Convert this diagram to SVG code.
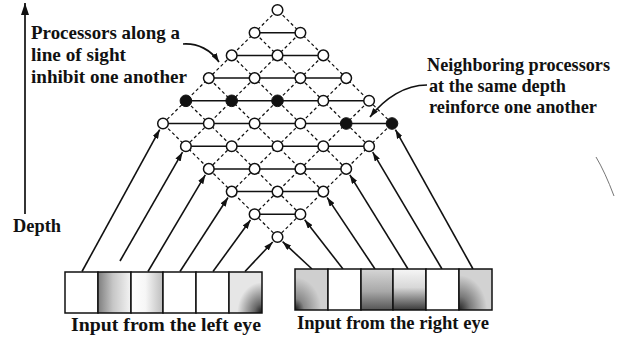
<svg xmlns="http://www.w3.org/2000/svg" width="619" height="337" viewBox="0 0 619 337">
<style>
.txt{font-family:"Liberation Serif","Times New Roman",serif;font-weight:bold;font-size:19.5px;fill:#111}
.nd{fill:#fff;stroke:#111;stroke-width:1.5}
.on{fill:#111;stroke:#111;stroke-width:1}
.h{stroke:#111;stroke-width:1.5;fill:none}
.d{stroke:#111;stroke-width:1.25;stroke-dasharray:3.2 2.6;fill:none}
.in{stroke:#111;stroke-width:1.6;fill:none;marker-end:url(#ah)}
.cv{stroke:#111;stroke-width:1.7;fill:none;marker-end:url(#ah)}
.bx{stroke:#111;stroke-width:1.5}
</style>
<defs>
<marker id="ah" markerUnits="userSpaceOnUse" markerWidth="9" markerHeight="6" refX="9" refY="3" orient="auto">
<path d="M0,0 L9,3 L0,6 z" fill="#111"/>
</marker>
<marker id="ahBig" markerUnits="userSpaceOnUse" markerWidth="12" markerHeight="8" refX="12" refY="4" orient="auto">
<path d="M0,0 L12,4 L0,8 z" fill="#111"/>
</marker>
<linearGradient id="gL2" x1="0" y1="0" x2="1" y2="0">
<stop offset="0" stop-color="#7e7e7e"/><stop offset="0.45" stop-color="#c6c6c6"/><stop offset="1" stop-color="#f4f4f4"/>
</linearGradient>
<linearGradient id="gL3" x1="0" y1="0" x2="1" y2="0">
<stop offset="0" stop-color="#ffffff"/><stop offset="0.45" stop-color="#f6f6f6"/><stop offset="1" stop-color="#bdbdbd"/>
</linearGradient>
<radialGradient id="gL6" cx="1" cy="1" r="0.75">
<stop offset="0" stop-color="#111"/><stop offset="0.3" stop-color="#666"/><stop offset="1" stop-color="#e6e6e6"/>
</radialGradient>
<radialGradient id="gR1" cx="0" cy="1" r="0.8">
<stop offset="0" stop-color="#111"/><stop offset="0.35" stop-color="#888"/><stop offset="1" stop-color="#cfcfcf"/>
</radialGradient>
<linearGradient id="gR3" x1="0" y1="0" x2="0" y2="1">
<stop offset="0" stop-color="#d6d6d6"/><stop offset="0.55" stop-color="#a8a8a8"/><stop offset="1" stop-color="#555"/>
</linearGradient>
<linearGradient id="gR4" x1="0" y1="0" x2="0" y2="1">
<stop offset="0" stop-color="#f6f6f6"/><stop offset="0.45" stop-color="#d8d8d8"/><stop offset="1" stop-color="#3a3a3a"/>
</linearGradient>
<radialGradient id="gR6" cx="0" cy="1" r="0.85">
<stop offset="0" stop-color="#222"/><stop offset="0.4" stop-color="#7a7a7a"/><stop offset="1" stop-color="#d2d2d2"/>
</radialGradient>
</defs>
<rect width="619" height="337" fill="#fff"/>

<g id="connectors">
<path class="h" d="M254.6,214.3H300.4 M231.7,191.6H323.3 M208.8,168.9H346.2 M185.9,146.2H369.1 M163,123.5H392 M185.9,100.8H369.1 M208.8,78.1H346.2 M231.7,55.4H323.3 M254.6,32.7H300.4"/>
<path class="d" d="M163,123.5L277.5,10 M185.9,146.2L300.4,32.7 M208.8,168.9L323.3,55.4 M231.7,191.6L346.2,78.1 M254.6,214.3L369.1,100.8 M277.5,237L392,123.5"/>
<path class="d" d="M277.5,237L163,123.5 M300.4,214.3L185.9,100.8 M323.3,191.6L208.8,78.1 M346.2,168.9L231.7,55.4 M369.1,146.2L254.6,32.7 M392,123.5L277.5,10"/>
<line class="in" x1="82" y1="271.5" x2="159.7" y2="129.6"/>
<line class="in" x1="120" y1="261" x2="182.5" y2="152.2"/>
<line class="in" x1="148" y1="271.5" x2="205.3" y2="174.9"/>
<line class="in" x1="180" y1="271.5" x2="228.0" y2="197.5"/>
<line class="in" x1="213" y1="271.5" x2="250.5" y2="220.0"/>
<line class="in" x1="245" y1="271.5" x2="272.7" y2="242.0"/>
<line class="in" x1="312" y1="269" x2="282.6" y2="241.7"/>
<line class="in" x1="343" y1="269" x2="304.7" y2="219.8"/>
<line class="in" x1="375" y1="269" x2="327.1" y2="197.4"/>
<line class="in" x1="408" y1="269" x2="349.8" y2="174.8"/>
<line class="in" x1="442" y1="269" x2="372.7" y2="152.2"/>
<line class="in" x1="473" y1="269" x2="395.4" y2="129.6"/>
<path class="cv" d="M183,44 C198,43 211,50 219,62"/>
<path class="cv" d="M427,85 C405,85 385,98 370,117"/>
<line x1="25" y1="214" x2="25" y2="3" stroke="#111" stroke-width="1.7" marker-end="url(#ahBig)"/>
</g>

<g id="nodes">
<g id="n5_0"><circle class="nd" cx="277.5" cy="237" r="5.3"/></g>
<g id="n4_0"><circle class="nd" cx="254.6" cy="214.3" r="5.3"/></g>
<g id="n5_1"><circle class="nd" cx="300.4" cy="214.3" r="5.3"/></g>
<g id="n3_0"><circle class="nd" cx="231.7" cy="191.6" r="5.3"/></g>
<g id="n4_1"><circle class="nd" cx="277.5" cy="191.6" r="5.3"/></g>
<g id="n5_2"><circle class="nd" cx="323.3" cy="191.6" r="5.3"/></g>
<g id="n2_0"><circle class="nd" cx="208.8" cy="168.9" r="5.3"/></g>
<g id="n3_1"><circle class="nd" cx="254.6" cy="168.9" r="5.3"/></g>
<g id="n4_2"><circle class="nd" cx="300.4" cy="168.9" r="5.3"/></g>
<g id="n5_3"><circle class="nd" cx="346.2" cy="168.9" r="5.3"/></g>
<g id="n1_0"><circle class="nd" cx="185.9" cy="146.2" r="5.3"/></g>
<g id="n2_1"><circle class="nd" cx="231.7" cy="146.2" r="5.3"/></g>
<g id="n3_2"><circle class="nd" cx="277.5" cy="146.2" r="5.3"/></g>
<g id="n4_3"><circle class="nd" cx="323.3" cy="146.2" r="5.3"/></g>
<g id="n5_4"><circle class="nd" cx="369.1" cy="146.2" r="5.3"/></g>
<g id="n0_0"><circle class="nd" cx="163" cy="123.5" r="5.3"/></g>
<g id="n1_1"><circle class="nd" cx="208.8" cy="123.5" r="5.3"/></g>
<g id="n2_2"><circle class="nd" cx="254.6" cy="123.5" r="5.3"/></g>
<g id="n3_3"><circle class="nd" cx="300.4" cy="123.5" r="5.3"/></g>
<g id="n4_4"><circle class="on" cx="346.2" cy="123.5" r="5.8"/></g>
<g id="n5_5"><circle class="on" cx="392" cy="123.5" r="5.8"/></g>
<g id="n0_1"><circle class="on" cx="185.9" cy="100.8" r="5.8"/></g>
<g id="n1_2"><circle class="on" cx="231.7" cy="100.8" r="5.8"/></g>
<g id="n2_3"><circle class="on" cx="277.5" cy="100.8" r="5.8"/></g>
<g id="n3_4"><circle class="nd" cx="323.3" cy="100.8" r="5.3"/></g>
<g id="n4_5"><circle class="nd" cx="369.1" cy="100.8" r="5.3"/></g>
<g id="n0_2"><circle class="nd" cx="208.8" cy="78.1" r="5.3"/></g>
<g id="n1_3"><circle class="nd" cx="254.6" cy="78.1" r="5.3"/></g>
<g id="n2_4"><circle class="nd" cx="300.4" cy="78.1" r="5.3"/></g>
<g id="n3_5"><circle class="nd" cx="346.2" cy="78.1" r="5.3"/></g>
<g id="n0_3"><circle class="nd" cx="231.7" cy="55.4" r="5.3"/></g>
<g id="n1_4"><circle class="nd" cx="277.5" cy="55.4" r="5.3"/></g>
<g id="n2_5"><circle class="nd" cx="323.3" cy="55.4" r="5.3"/></g>
<g id="n0_4"><circle class="nd" cx="254.6" cy="32.7" r="5.3"/></g>
<g id="n1_5"><circle class="nd" cx="300.4" cy="32.7" r="5.3"/></g>
<g id="n0_5"><circle class="nd" cx="277.5" cy="10" r="5.3"/></g>
</g>

<g id="left-eye">
<rect class="bx" x="65" y="272" width="33" height="41" fill="#fff"/>
<rect class="bx" x="98" y="272" width="33" height="41" fill="url(#gL2)"/>
<rect class="bx" x="131" y="272" width="32" height="41" fill="url(#gL3)"/>
<rect class="bx" x="163" y="272" width="33" height="41" fill="#fff"/>
<rect class="bx" x="196" y="272" width="33" height="41" fill="#fff"/>
<rect class="bx" x="229" y="272" width="33" height="41" fill="url(#gL6)"/>
</g>
<g id="right-eye">
<rect class="bx" x="295" y="269" width="33" height="41" fill="url(#gR1)"/>
<rect class="bx" x="328" y="269" width="33" height="41" fill="#fff"/>
<rect class="bx" x="361" y="269" width="32" height="41" fill="url(#gR3)"/>
<rect class="bx" x="393" y="269" width="33" height="41" fill="url(#gR4)"/>
<rect class="bx" x="426" y="269" width="33" height="41" fill="#fff"/>
<rect class="bx" x="459" y="269" width="33" height="41" fill="url(#gR6)"/>
</g>

<g id="labels">
<text class="txt" x="31" y="39" textLength="149" lengthAdjust="spacingAndGlyphs">Processors along a</text>
<text class="txt" x="31" y="61" textLength="95" lengthAdjust="spacingAndGlyphs">line of sight</text>
<text class="txt" x="31" y="83" textLength="156" lengthAdjust="spacingAndGlyphs">inhibit one another</text>
<text class="txt" x="427" y="71" style="font-size:18.2px" textLength="183" lengthAdjust="spacingAndGlyphs">Neighboring processors</text>
<text class="txt" x="429" y="92" textLength="137" lengthAdjust="spacingAndGlyphs">at the same depth</text>
<text class="txt" x="429" y="113" textLength="168" lengthAdjust="spacingAndGlyphs">reinforce one another</text>
<text class="txt" x="13" y="232" textLength="48" lengthAdjust="spacingAndGlyphs">Depth</text>
<text class="txt" x="71" y="331" textLength="190" lengthAdjust="spacingAndGlyphs">Input from the left eye</text>
<text class="txt" x="297" y="329" textLength="192" lengthAdjust="spacingAndGlyphs">Input from the right eye</text>
</g>

<path d="M596,157 Q605,172 614,196" stroke="#666" stroke-width="0.9" fill="none"/>
</svg>
